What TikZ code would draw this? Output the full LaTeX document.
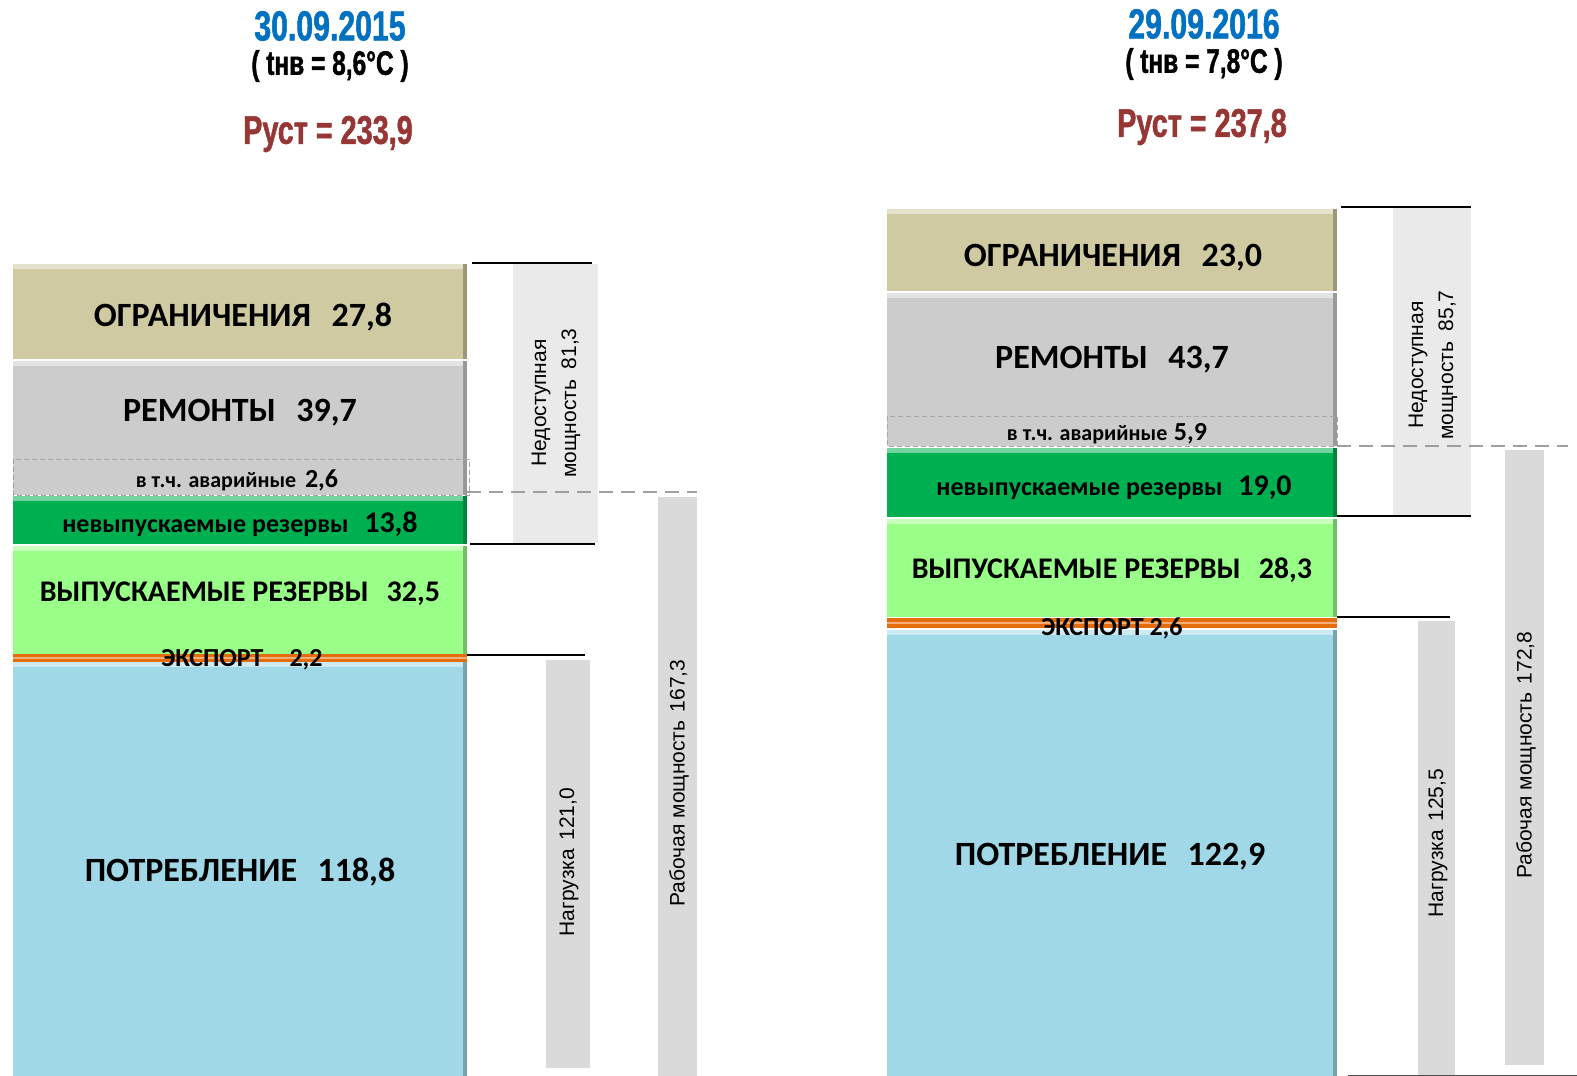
\documentclass[tikz,border=0pt]{standalone}
\usepackage{fontspec}
\setmainfont{Carlito}
\newfontfamily\condfont[FakeStretch=0.72,FakeBold=1.2]{Liberation Sans}
\newfontfamily\arialfont{Liberation Sans}
\definecolor{limitbeige}{RGB}{208,202,162}
\definecolor{repairgray}{RGB}{204,204,204}
\definecolor{reservegreen}{RGB}{0,176,80}
\definecolor{releasegreen}{RGB}{153,255,136}
\definecolor{exportorange}{RGB}{228,108,10}
\definecolor{consumeblue}{RGB}{160,216,232}
\definecolor{sidelight}{RGB}{234,234,234}
\definecolor{sidedark}{RGB}{218,218,218}
\definecolor{dateblue}{RGB}{0,112,192}
\definecolor{powerred}{RGB}{150,55,53}
\newcommand{\segment}[5]{%
  \fill[#5] (#1,#2) rectangle (#3,#4);
  \fill[#5!55!white] (#1,#2) rectangle (#3,#2+5);
  \fill[#5!75!black] (#3-4,#2) rectangle (#3,#4);
}
\newcommand{\fsz}[1]{\fontsize{#1}{#1}\selectfont}
\tikzset{
  barlabel/.style={font=\bfseries\fsz{34}, inner sep=0pt},
  subbarlabel/.style={font=\bfseries\fsz{26}, inner sep=0pt},
  sidelabel/.style={font=\arialfont\fontsize{21}{30}\selectfont, rotate=90, align=center, inner sep=0pt},
  datelabel/.style={font=\condfont\bfseries\fsz{42}, text=dateblue, inner sep=0pt},
  templabel/.style={font=\condfont\bfseries\fsz{34}, inner sep=0pt},
  ratedlabel/.style={font=\condfont\bfseries\fsz{40}, text=powerred, inner sep=0pt},
  bracket/.style={line width=1.4pt},
  levelline/.style={gray!75, line width=2pt, dash pattern=on 14pt off 8pt},
  avardash/.style={gray!70, line width=0.8pt, dash pattern=on 5pt off 3pt},
}
\begin{document}
\begin{tikzpicture}[x=1pt, y=-1pt]
        \useasboundingbox (0,0) rectangle (1577,1076);

        % 2015 header
        \node[datelabel] (date15) at (330,26) {30.09.2015};
        \node[templabel] (temp15) at (330,66) {( tнв = 8,6°С )};
        \node[ratedlabel] (rated15) at (328,134) {Руст = 233,9};

        % 2015 column
        \segment{13}{264}{467}{359}{limitbeige}
        \segment{13}{361}{467}{495}{repairgray}
        \draw[avardash] (13,459) rectangle (469,495);
        \segment{13}{496}{467}{544}{reservegreen}
        \segment{13}{546}{467}{654}{releasegreen}
        \fill[exportorange] (13,654) rectangle (467,662);
        \fill[exportorange!55!white] (13,657) rectangle (467,659);
        \segment{13}{662}{467}{1076}{consumeblue}

        \node[barlabel] (limit15) at (243,317) {ОГРАНИЧЕНИЯ\hspace{0.6em}27,8};
        \node[barlabel] (repair15) at (240,413) {РЕМОНТЫ\hspace{0.6em}39,7};
        \node[subbarlabel] (avar15) at (237,480) {\fsz{22}в т.ч. аварийные\hspace{0.4em}\fsz{26}2,6};
        \node[subbarlabel] (reserve15) at (240,524) {невыпускаемые резервы\hspace{0.6em}\fsz{30}13,8};
        \node[barlabel, font=\bfseries\fsz{30}] (release15) at (240,594) {ВЫПУСКАЕМЫЕ РЕЗЕРВЫ\hspace{0.6em}32,5};
        \node[subbarlabel] (export15) at (242,660) {ЭКСПОРТ\hspace{1em}2,2};
        \node[barlabel] (consume15) at (240,872) {ПОТРЕБЛЕНИЕ\hspace{0.6em}118,8};

        % 2015 side bars
        \fill[sidelight] (513,264) rectangle (598,543);
        \draw[bracket] (472,263) -- (592,263);
        \draw[bracket] (470,544) -- (595,544);
        \fill[sidedark] (658,497) rectangle (697,1076);
        \fill[sidedark] (546,660) rectangle (590,1068);
        \draw[bracket] (467,655) -- (585,655);
        \draw[levelline] (467,492) -- (697,492);
        \node[sidelabel] (unavail15) at (556,403) {Недоступная\\мощность\hspace{0.5em}81,3};
        \node[sidelabel] (working15) at (679,783) {Рабочая мощность\hspace{0.4em}167,3};
        \node[sidelabel] (load15) at (569,862) {Нагрузка\hspace{0.4em}121,0};

        % 2016 header
        \node[datelabel] (date16) at (1204,24) {29.09.2016};
        \node[templabel] (temp16) at (1204,64) {( tнв = 7,8°С )};
        \node[ratedlabel] (rated16) at (1202,127) {Руст = 237,8};

        % 2016 column
        \segment{887}{209}{1337}{291}{limitbeige}
        \segment{887}{293}{1337}{446}{repairgray}
        \draw[avardash] (887,416) rectangle (1337,446);
        \segment{887}{448}{1337}{517}{reservegreen}
        \segment{887}{519}{1337}{617}{releasegreen}
        \fill[exportorange] (887,618) rectangle (1337,628);
        \fill[exportorange!55!white] (887,622) rectangle (1337,624);
        \segment{887}{630}{1337}{1076}{consumeblue}

        \node[barlabel] (limit16) at (1113,258) {ОГРАНИЧЕНИЯ\hspace{0.6em}23,0};
        \node[barlabel] (repair16) at (1112,360) {РЕМОНТЫ\hspace{0.6em}43,7};
        \node[subbarlabel] (avar16) at (1107,434) {\fsz{22}в т.ч. аварийные\hspace{0.3em}\fsz{26}5,9};
        \node[subbarlabel] (reserve16) at (1114,488) {невыпускаемые резервы\hspace{0.6em}\fsz{30}19,0};
        \node[barlabel, font=\bfseries\fsz{30}] (release16) at (1112,570) {ВЫПУСКАЕМЫЕ РЕЗЕРВЫ\hspace{0.6em}28,3};
        \node[subbarlabel] (export16) at (1112,628) {ЭКСПОРТ 2,6};
        \node[barlabel] (consume16) at (1110,857) {ПОТРЕБЛЕНИЕ\hspace{0.6em}122,9};

        % 2016 side bars
        \fill[sidelight] (1393,208) rectangle (1471,516);
        \draw[bracket] (1341,207) -- (1471,207);
        \draw[bracket] (1337,516) -- (1471,516);
        \fill[sidedark] (1505,450) rectangle (1544,1065);
        \fill[sidedark] (1418,621) rectangle (1455,1076);
        \draw[bracket] (1337,617) -- (1450,617);
        \draw[levelline] (1337,446) -- (1568,446);
        \draw[gray!60!black, line width=1pt] (1348,1075) -- (1577,1075);
        \node[sidelabel] (unavail16) at (1433,365) {Недоступная\\мощность\hspace{0.5em}85,7};
        \node[sidelabel] (working16) at (1526,755) {Рабочая мощность\hspace{0.4em}172,8};
        \node[sidelabel] (load16) at (1438,843) {Нагрузка\hspace{0.4em}125,5};
    \end{tikzpicture}
\end{document}
